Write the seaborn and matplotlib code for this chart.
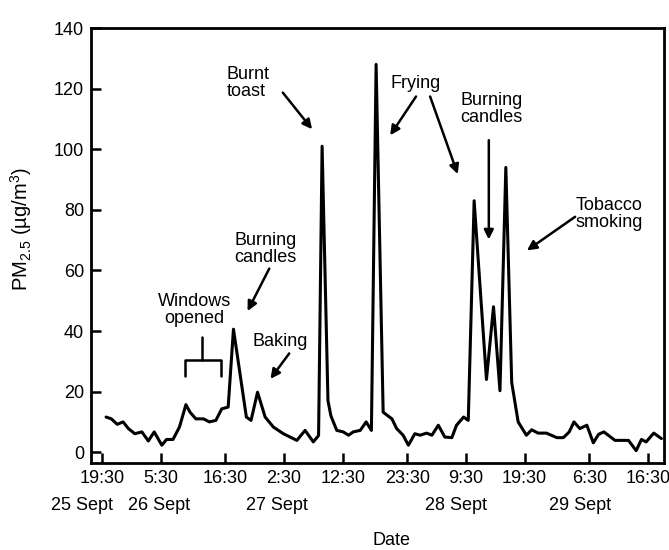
import matplotlib
matplotlib.use("Agg")
import matplotlib.pyplot as plt
import seaborn as sns
import pandas as pd

# hours since 25 Sept 19:30 and PM2.5 readings
hours = [0.7, 1.6, 2.6, 3.6, 4.5, 5.6, 6.8, 7.9, 8.9, 10.2, 11.0, 12.1, 13.2, 14.3,
         15.0, 16.0, 17.3, 18.3, 19.4, 20.4, 21.5, 22.4, 24.6, 25.4, 26.5, 27.8,
         29.2, 30.9, 33.2, 34.6, 36.0, 36.9, 37.5, 38.5, 39.0, 40.0, 41.1, 42.0,
         42.8, 44.0, 45.0, 45.9, 46.7, 47.9, 49.4, 50.2, 51.3, 52.2, 53.3, 54.2,
         55.3, 56.2, 57.3, 58.4, 59.6, 60.4, 61.6, 62.4, 63.4, 65.5, 66.7, 67.8,
         68.8, 69.8, 70.9, 72.3, 73.2, 74.3, 75.7, 77.5, 78.6, 79.6, 80.4, 81.4,
         82.6, 83.7, 84.6, 85.5, 87.4, 89.7, 91.0, 91.9, 92.7, 94.0, 95.3]
pm25 = [11.6, 11.0, 9.2, 10.0, 7.8, 6.1, 6.7, 3.7, 6.7, 2.3, 4.2, 4.2, 8.3, 15.7,
        13.2, 11.0, 11.0, 10.0, 10.5, 14.3, 14.9, 40.6, 11.6, 10.5, 19.8, 11.6,
        8.3, 6.1, 3.9, 7.2, 3.4, 5.5, 101.0, 17.0, 12.0, 7.2, 6.7, 5.6,
        6.7, 7.2, 10.0, 7.2, 128.0, 13.2, 11.0, 7.8, 5.6, 2.3, 6.1, 5.6,
        6.3, 5.6, 8.9, 5.0, 4.8, 8.9, 11.6, 10.5, 83.0, 24.0, 48.0, 20.3,
        94.0, 23.0, 10.0, 5.6, 7.4, 6.3, 6.3, 4.8, 4.8, 6.7, 10.0, 7.8,
        8.9, 3.1, 5.9, 6.7, 3.9, 3.9, 0.5, 4.2, 3.4, 6.3, 4.5]

tick_hours = [0, 10, 21, 31, 41, 52, 62, 72, 83, 93]
tick_labels = ["19:30", "5:30", "16:30", "2:30", "12:30", "23:30", "9:30",
               "19:30", "6:30", "16:30"]
date_labels = ["25 Sept", "26 Sept", "27 Sept", "28 Sept", "29 Sept"]
date_hours = [-3.4, 9.7, 29.8, 60.3, 81.4]
y_ticks = [0, 20, 40, 60, 80, 100, 120, 140]

sns.set_style("ticks")
plt.rcParams['font.family'] = ['Liberation Sans', 'DejaVu Sans']
plt.rcParams['mathtext.fontset'] = 'custom'
plt.rcParams['mathtext.rm'] = 'Liberation Sans'
plt.rcParams['mathtext.it'] = 'Liberation Sans'
for k in ['text.color', 'axes.labelcolor', 'xtick.color', 'ytick.color', 'axes.edgecolor']:
    plt.rcParams[k] = 'black'

fs = 13

df = pd.DataFrame({'hours': hours, 'pm25': pm25})

fig = plt.figure(figsize=(6.69, 5.5), dpi=100)
ax = fig.add_axes([0.136, 0.158, 0.8565, 0.791])
sns.lineplot(data=df, x='hours', y='pm25', ax=ax, color='black', lw=2.2)

ax.set_xlim(-1.87, 95.74)
ax.set_ylim(-3.6, 140)
ax.set_xticks(tick_hours)
ax.set_xticklabels(tick_labels)
ax.set_yticks(y_ticks)
ax.tick_params(direction='in', length=7, width=1.8, labelsize=fs, pad=5)
for s in ax.spines.values():
    s.set_linewidth(2.0)

for d, h in zip(date_labels, date_hours):
    ax.text(h, -0.097, d, transform=ax.get_xaxis_transform(), ha='center',
            va='center', fontsize=fs)

ax.set_xlabel("Date", fontsize=fs)
ax.xaxis.set_label_coords((392 - 91) / 573, (463 - 532) / 435)
ax.set_ylabel("PM$_{2.5}$ (µg/m$^3$)", fontsize=14.5)
ax.yaxis.set_label_coords(-0.099, 0.538)

# annotations
arrow = dict(arrowstyle='-|>', lw=1.8, color='black', mutation_scale=14,
             shrinkA=0, shrinkB=0)
tkw = dict(fontsize=fs, va='top', linespacing=1.0)

ax.text(21.3, 127.6, "Burnt\ntoast", ha='left', **tkw)
ax.annotate("", xy=(35.8, 106.6), xytext=(30.8, 118.7), arrowprops=arrow)

ax.text(27.8, 72.8, "Burning\ncandles", ha='center', **tkw)
ax.annotate("", xy=(24.8, 46.6), xytext=(28.5, 60.6), arrowprops=arrow)

ax.text(15.8, 52.6, "Windows\nopened", ha='center', **tkw)
ax.plot([17.1, 17.1], [38, 30.4], color='black', lw=1.8)
ax.plot([14.1, 14.1, 20.2, 20.2], [25.3, 30.4, 30.4, 25.3], color='black', lw=1.8)

ax.text(30.3, 39.5, "Baking", ha='center', **tkw)
ax.annotate("", xy=(28.7, 24.2), xytext=(31.9, 32.6), arrowprops=arrow)

ax.text(53.5, 124.6, "Frying", ha='center', **tkw)
ax.annotate("", xy=(49.1, 104.6), xytext=(53.5, 117.4), arrowprops=arrow)
ax.annotate("", xy=(60.6, 91.8), xytext=(55.9, 117.4), arrowprops=arrow)

ax.text(66.4, 119.0, "Burning\ncandles", ha='center', **tkw)
ax.annotate("", xy=(65.9, 70.2), xytext=(65.9, 103.0), arrowprops=arrow)

ax.text(86.4, 84.3, "Tobacco\nsmoking", ha='center', **tkw)
ax.annotate("", xy=(72.4, 66.6), xytext=(80.6, 77.7), arrowprops=arrow)

fig.savefig("out.png", dpi=100)
